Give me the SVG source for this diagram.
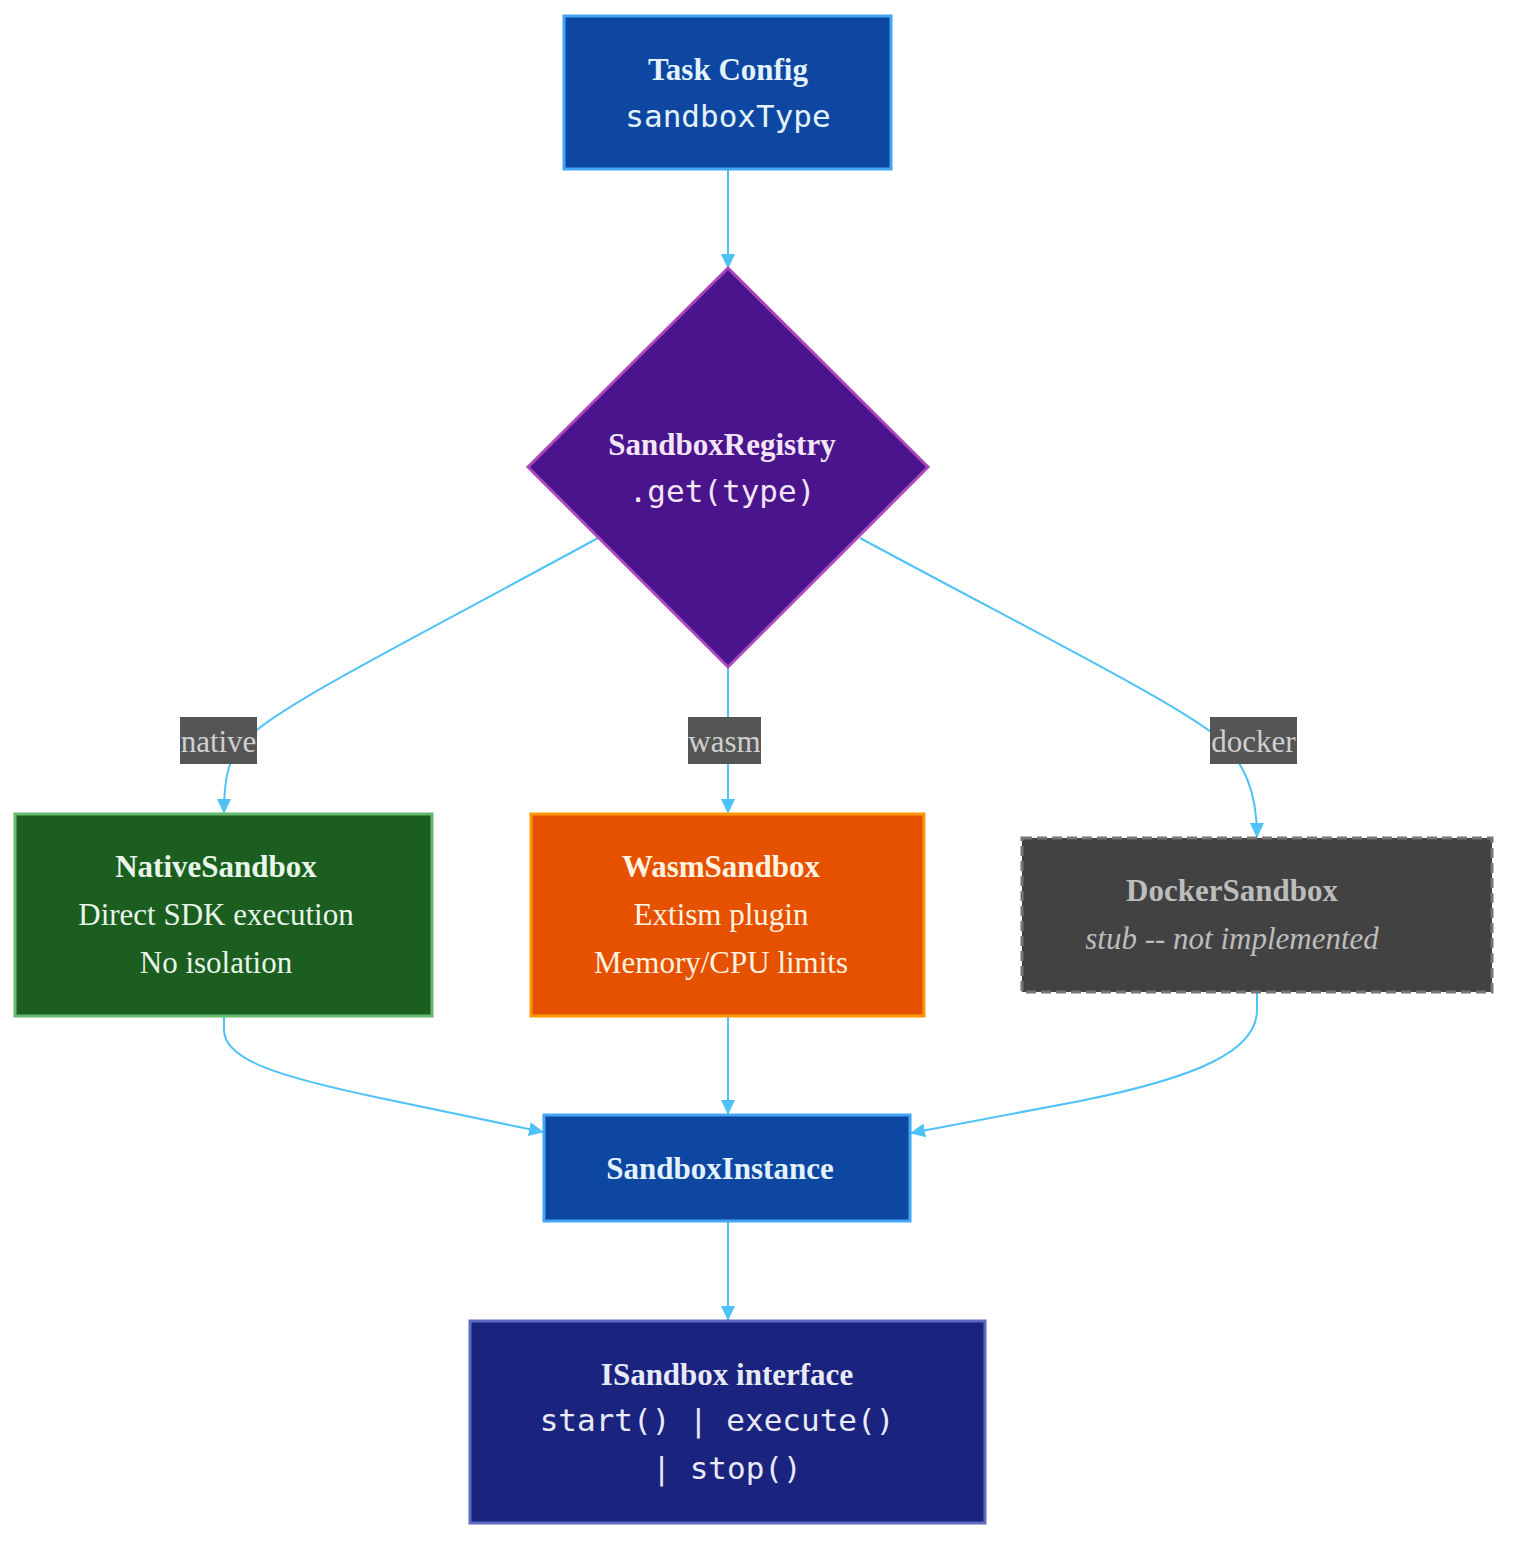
<svg xmlns="http://www.w3.org/2000/svg" width="1524" height="1556" viewBox="0 0 1524 1556">
<style>
.t{font-family:"Liberation Serif","Times New Roman",serif;font-size:31px;text-anchor:middle;dominant-baseline:central}
.b{font-weight:bold}
.m{font-family:"DejaVu Sans Mono",monospace;font-size:31px;text-anchor:middle;dominant-baseline:central}
.e{fill:none;stroke:#4fc3f7;stroke-width:2}
.lb{fill:#555555}
.lt{font-family:"Liberation Serif","Times New Roman",serif;font-size:31px;text-anchor:middle;dominant-baseline:central;fill:#d0d0d0}
</style>
<defs>
<marker id="ah" markerWidth="16" markerHeight="16" refX="14" refY="8" orient="auto" markerUnits="userSpaceOnUse">
<path d="M0,1 L15,8 L0,15 Z" fill="#4fc3f7"/>
</marker>
</defs>
<rect width="1524" height="1556" fill="#ffffff"/>
<g id="edges">
<path class="e" d="M728,169 L728,268" marker-end="url(#ah)"/>
<path class="e" d="M598,538 C420,635 290,700 252,734 C230,753 224,772 224,813" marker-end="url(#ah)"/>
<path class="e" d="M728,667 L728,813" marker-end="url(#ah)"/>
<path class="e" d="M860,538 C1040,635 1170,700 1215,735 C1245,762 1257,792 1257,837" marker-end="url(#ah)"/>
<path class="e" d="M224,1016 L224,1030 C224,1060 280,1077 380,1098 L543,1132" marker-end="url(#ah)"/>
<path class="e" d="M728,1016 L728,1114" marker-end="url(#ah)"/>
<path class="e" d="M1257,992 L1257,1010 C1257,1050 1200,1077 1080,1101 L911,1133" marker-end="url(#ah)"/>
<path class="e" d="M728,1221 L728,1320" marker-end="url(#ah)"/>
<rect class="lb" x="180" y="717" width="77" height="47"/>
<text class="lt" x="218.5" y="741">native</text>
<rect class="lb" x="688" y="717" width="73" height="47"/>
<text class="lt" x="724.5" y="741">wasm</text>
<rect class="lb" x="1210" y="717" width="87" height="47"/>
<text class="lt" x="1253.5" y="741">docker</text>
</g>
<g id="task-config">
<rect x="564" y="16" width="327" height="153" fill="#0d47a1" stroke="#42a5f5" stroke-width="3"/>
<text class="t b" x="728" y="69" fill="#e3f2fd">Task Config</text>
<text class="m" x="728" y="116" fill="#e3f2fd">sandboxType</text>
</g>
<g id="sandbox-registry">
<polygon points="728,268 928,467 728,667 528,467" fill="#4a148c" stroke="#ab47bc" stroke-width="3"/>
<text class="t b" x="722" y="444" fill="#f3e5f5">SandboxRegistry</text>
<text class="m" x="722" y="491" fill="#f3e5f5">.get(type)</text>
</g>
<g id="native-sandbox">
<rect x="15" y="814" width="417" height="202" fill="#1b5e20" stroke="#66bb6a" stroke-width="3"/>
<text class="t b" x="216" y="866" fill="#e8f5e9">NativeSandbox</text>
<text class="t" x="216" y="914" fill="#e8f5e9">Direct SDK execution</text>
<text class="t" x="216" y="962" fill="#e8f5e9">No isolation</text>
</g>
<g id="wasm-sandbox">
<rect x="531" y="814" width="393" height="202" fill="#e65100" stroke="#ff9800" stroke-width="3"/>
<text class="t b" x="721" y="866" fill="#fff3e0">WasmSandbox</text>
<text class="t" x="721" y="914" fill="#fff3e0">Extism plugin</text>
<text class="t" x="721" y="962" fill="#fff3e0">Memory/CPU limits</text>
</g>
<g id="docker-sandbox">
<rect x="1022" y="838" width="470" height="154" fill="#424242" stroke="#757575" stroke-width="3" stroke-dasharray="10,5"/>
<text class="t b" x="1232" y="890" fill="#bdbdbd">DockerSandbox</text>
<text class="t" x="1232" y="938" fill="#bdbdbd" font-style="italic">stub -- not implemented</text>
</g>
<g id="sandbox-instance">
<rect x="544" y="1115" width="366" height="106" fill="#0d47a1" stroke="#42a5f5" stroke-width="3"/>
<text class="t b" x="720" y="1168" fill="#e3f2fd">SandboxInstance</text>
</g>
<g id="isandbox-interface">
<rect x="470" y="1321" width="515" height="202" fill="#1a237e" stroke="#5c6bc0" stroke-width="3"/>
<text class="t b" x="727" y="1374" fill="#e8eaf6">ISandbox interface</text>
<text class="m" x="717" y="1420" fill="#e8eaf6">start() | execute()</text>
<text class="m" x="727" y="1468" fill="#e8eaf6">| stop()</text>
</g>
</svg>
